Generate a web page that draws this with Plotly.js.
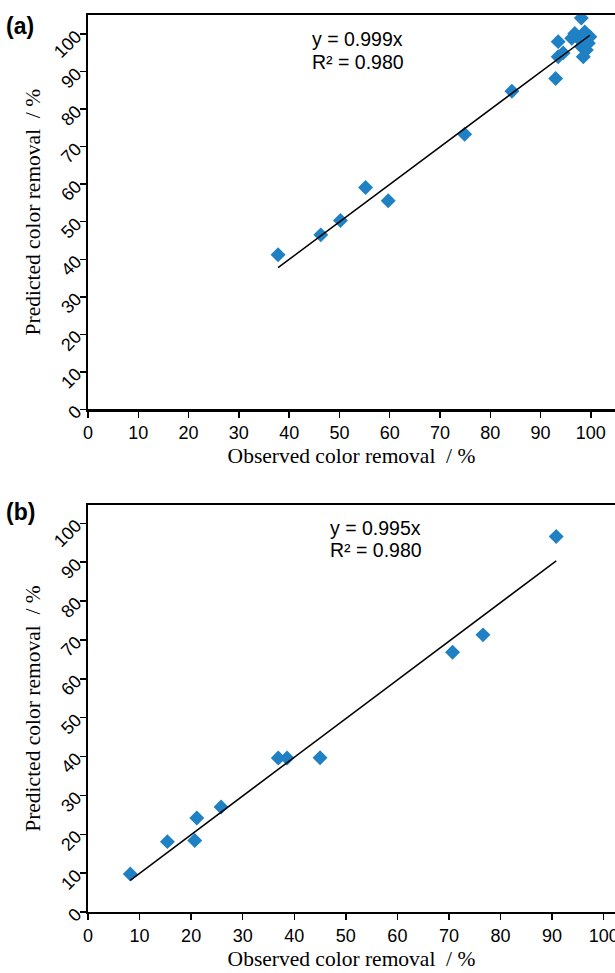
<!DOCTYPE html>
<html>
<head>
<meta charset="utf-8">
<script src="https://cdn.plot.ly/plotly-3.0.1.min.js"></script>
<style>html,body{margin:0;padding:0;background:#fff;}#chart{width:615px;height:973px;}</style>
</head>
<body>
<div id="chart"></div>
<script>
// Panel (a) data
const observedA = [37.8, 46.3, 50.2, 55.2, 59.7, 74.9, 84.3, 93.0, 93.5, 93.5, 94.5, 96.2, 96.8, 97.8, 98.1, 98.1, 98.5, 98.8, 99.1, 99.5, 99.8];
const predictedA = [41.2, 46.5, 50.3, 59.1, 55.6, 73.3, 84.8, 88.2, 98.0, 94.0, 95.0, 98.9, 100.2, 98.5, 104.3, 96.7, 94.0, 100.6, 95.8, 97.6, 99.3];
const slopeA = 0.999;
const eqA = "y = 0.999x";
const r2A = "R² = 0.980";

// Panel (b) data
const observedB = [8.2, 15.4, 20.7, 21.1, 25.8, 36.9, 38.6, 45.0, 70.7, 76.6, 90.8];
const predictedB = [9.8, 18.1, 18.4, 24.2, 27.0, 39.6, 39.6, 39.7, 66.8, 71.3, 96.6];
const slopeB = 0.995;
const eqB = "y = 0.995x";
const r2B = "R² = 0.980";

const tickVals = [0,10,20,30,40,50,60,70,80,90,100];
const xTitle = "Observed color removal  / %";
const yTitle = "Predicted color removal  / %";

const blue = "#1f80c3";
function fitLine(xs, slope){
  const lo = Math.min(...xs), hi = Math.max(...xs);
  return {x:[lo,hi], y:[slope*lo, slope*hi]};
}
const lineA = fitLine(observedA, slopeA);
const lineB = fitLine(observedB, slopeB);

const traces = [
  {x: observedA, y: predictedA, type:'scatter', mode:'markers', xaxis:'x', yaxis:'y',
   marker:{symbol:'diamond', size:11.5, color:blue}, showlegend:false},
  {x: lineA.x, y: lineA.y, type:'scatter', mode:'lines', xaxis:'x', yaxis:'y',
   line:{color:'#000', width:1.5}, showlegend:false},
  {x: observedB, y: predictedB, type:'scatter', mode:'markers', xaxis:'x2', yaxis:'y2',
   marker:{symbol:'diamond', size:11.5, color:blue}, showlegend:false},
  {x: lineB.x, y: lineB.y, type:'scatter', mode:'lines', xaxis:'x2', yaxis:'y2',
   line:{color:'#000', width:1.5}, showlegend:false}
];

const tickFont = {family:'Liberation Sans, Arial, sans-serif', size:18, color:'#000'};
const titleFont = {family:'Liberation Serif, Times New Roman, serif', size:21.5, color:'#000'};

function xAxis(range, anchor){
  return {range: range, domain:[0,1], anchor: anchor, tickvals: tickVals, ticks:'outside', ticklen:6, tickwidth:1.5,
    tickcolor:'#000', showline:true, linewidth:2.2, linecolor:'#000', mirror:true, showgrid:false, zeroline:false,
    ticklabeloverflow:'allow', automargin:false,
    tickfont: tickFont, title:{text:xTitle, font:titleFont, standoff:6}, fixedrange:true};
}
function yAxis(range, domain, anchor){
  return {range: range, domain: domain, anchor: anchor, tickvals: tickVals, ticks:'outside', ticklen:6, tickwidth:1.5,
    tickcolor:'#000', showline:true, linewidth:2.2, linecolor:'#000', showgrid:false, zeroline:false,
    ticklabeloverflow:'allow', automargin:false,
    tickangle:-45, tickfont: tickFont, title:{text:yTitle, font:titleFont, standoff:4}, fixedrange:true};
}

const annFont = {family:'Liberation Sans, Arial, sans-serif', size:19.5, color:'#000'};
const labFont = {family:'Liberation Sans, Arial, sans-serif', size:23, color:'#000'};
const layout = {
  width:615, height:973,
  margin:{l:88, r:0, t:15, b:61},
  paper_bgcolor:'#fff', plot_bgcolor:'#fff',
  xaxis: xAxis([0,104.8], 'y'),
  yaxis: yAxis([0,105.1], [0.5604,1], 'x'),
  xaxis2: xAxis([0,102.2], 'y2'),
  yaxis2: yAxis([0,104.7], [0,0.4537], 'x2'),
  annotations:[
    {xref:'x', yref:'y', x:44.1, y:98.6, text:eqA, showarrow:false, xanchor:'left', yanchor:'middle', font:annFont},
    {xref:'x', yref:'y', x:44.1, y:92.7, text:r2A, showarrow:false, xanchor:'left', yanchor:'middle', font:annFont},
    {xref:'x2', yref:'y2', x:46.5, y:98.8, text:eqB, showarrow:false, xanchor:'left', yanchor:'middle', font:annFont},
    {xref:'x2', yref:'y2', x:46.5, y:93.1, text:r2B, showarrow:false, xanchor:'left', yanchor:'middle', font:annFont},
    {xref:'paper', yref:'paper', x:-0.16, y:0.988, text:'<b>(a)</b>', showarrow:false, xanchor:'left', yanchor:'middle', font:labFont},
    {xref:'paper', yref:'paper', x:-0.16, y:0.446, text:'<b>(b)</b>', showarrow:false, xanchor:'left', yanchor:'middle', font:labFont}
  ]
};

Plotly.newPlot('chart', traces, layout, {displayModeBar:false, staticPlot:true});
</script>
</body>
</html>
